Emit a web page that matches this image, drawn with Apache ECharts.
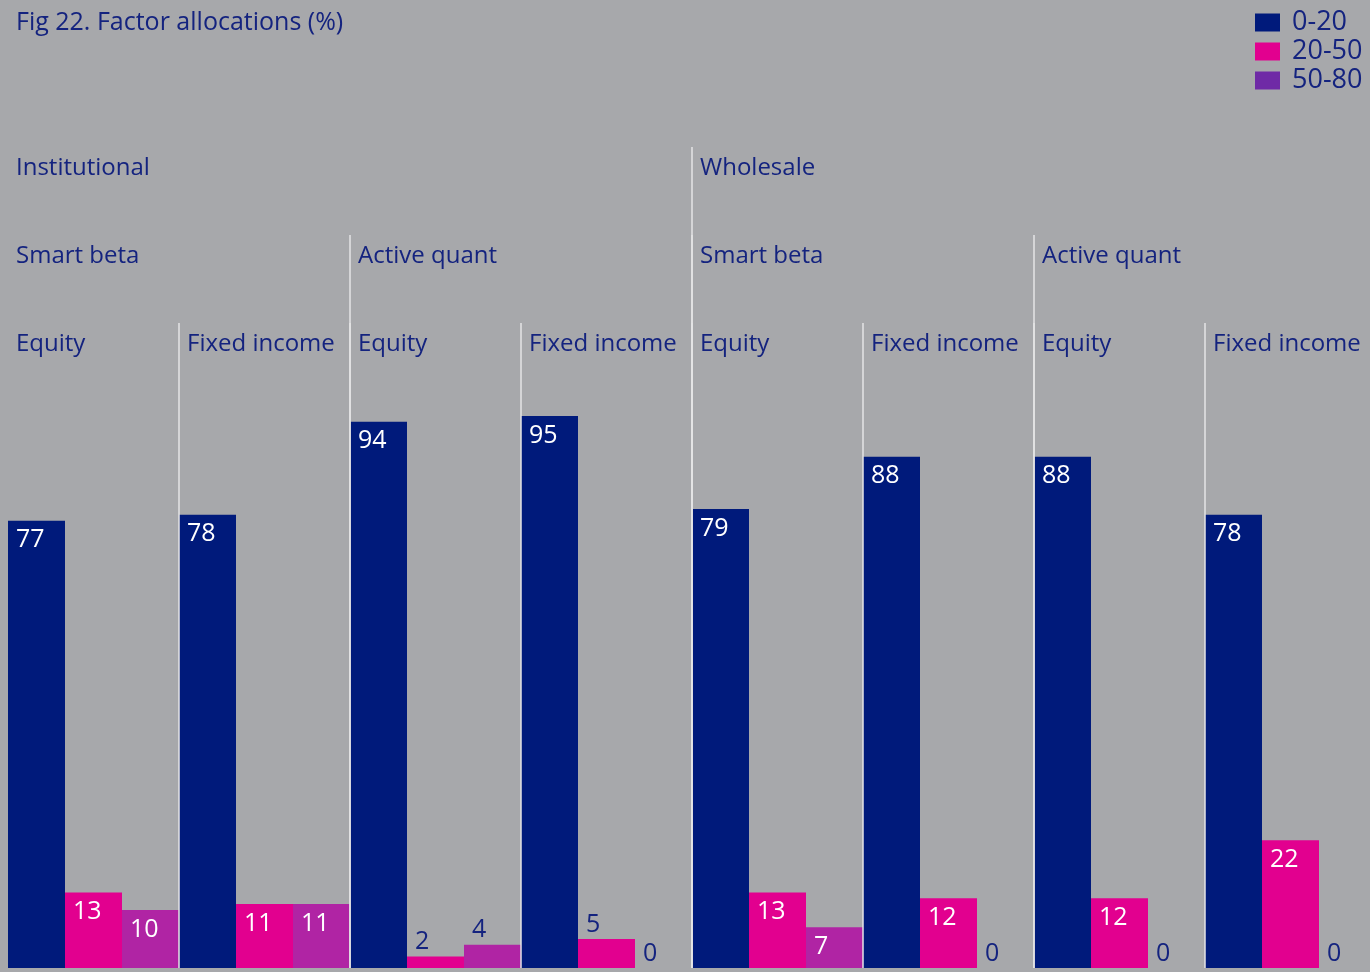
<!DOCTYPE html>
<html>
<head>
<meta charset="utf-8">
<script src="https://cdn.jsdelivr.net/npm/echarts@6/dist/echarts.min.js"></script>
<style>
  html, body { margin: 0; padding: 0; background: #a7a8ab; overflow: hidden; }
  #chart { width: 1380px; height: 972px; }
</style>
</head>
<body>
<div id="chart"></div>
<script>
// values (%)
const categories = ['Inst SB Equity', 'Inst SB Fixed income', 'Inst AQ Equity', 'Inst AQ Fixed income',
                    'Whole SB Equity', 'Whole SB Fixed income', 'Whole AQ Equity', 'Whole AQ Fixed income']
const seriesNames = ['0-20', '20-50', '50-80']
const low = [77, 78, 94, 95, 79, 88, 88, 78]
const mid = [13, 11, 2, 5, 13, 12, 12, 22]
const high = [10, 11, 4, 0, 7, 0, 0, 0]

// header rows
const assetLabels = ['Equity', 'Fixed income', 'Equity', 'Fixed income', 'Equity', 'Fixed income', 'Equity', 'Fixed income']
const styleCats = [0, 2, 4, 6]
const styleLabels = ['Smart beta', 'Active quant', 'Smart beta', 'Active quant']
const clientCats = [0, 4]
const clientLabels = ['Institutional', 'Wholesale']

const NAVY = '#001a7b'
const PINK = '#e2008f'
const PURPLE = '#b024a4'
const TEXT = '#14237f'
const FONT = 'Open Sans'

function barData(values) {
    return values.map(v => {
        const inside = v >= 7
        return {
            value: v,
            label: {
                show: true,
                position: inside ? [8, 7] : [8, -27],
                color: inside ? '#ffffff' : TEXT,
                fontSize: 25,
                fontFamily: FONT
            }
        }
    })
}

function headerSeries(cats, labels, textY, lineTop) {
    return {
        type: 'custom',
        silent: true,
        clip: false,
        z: 5,
        data: cats.map((c, i) => [c, 0, labels[i]]),
        renderItem: (params, api) => {
            const cat = api.value(0)
            const base = api.coord([cat, 0])
            const bw = api.size([1, 0])[0]
            const left = base[0] - bw / 2
            const children = [{
                type: 'text',
                style: {
                    x: left + 8, y: textY,
                    text: labels[params.dataIndex],
                    fill: TEXT, font: '24px "' + FONT + '"',
                    verticalAlign: 'middle', align: 'left'
                }
            }]
            if (cat > 0) {
                children.push({
                    type: 'line',
                    shape: { x1: left, y1: lineTop, x2: left, y2: base[1] },
                    style: { stroke: '#e4e4e6', lineWidth: 1.5 }
                })
            }
            return { type: 'group', children }
        }
    }
}

const chart = echarts.init(document.getElementById('chart'))

chart.setOption({
    backgroundColor: '#a7a8ab',
    animation: false,
    title: {
        text: 'Fig 22. Factor allocations (%)',
        left: 11, top: 5,
        textStyle: { color: TEXT, fontSize: 25, fontWeight: 'normal', fontFamily: FONT }
    },
    legend: {
        orient: 'vertical',
        left: 1255, top: 8,
        padding: 0,
        itemWidth: 25, itemHeight: 18, itemGap: 0,
        icon: 'rect',
        textStyle: { color: TEXT, fontSize: 27, lineHeight: 29, fontFamily: FONT, padding: [0, 0, 0, 7] },
        data: [
            { name: seriesNames[0], itemStyle: { color: NAVY } },
            { name: seriesNames[1], itemStyle: { color: PINK } },
            { name: seriesNames[2], itemStyle: { color: '#6f2aa6' } }
        ]
    },
    grid: { left: 8, top: 387, width: 1368, height: 581 },
    xAxis: {
        type: 'category',
        data: categories,
        axisLine: { show: false },
        axisTick: { show: false },
        axisLabel: { show: false }
    },
    yAxis: {
        type: 'value',
        min: 0, max: 100,
        show: false,
        splitLine: { show: false }
    },
    series: [
        { name: seriesNames[0], type: 'bar', data: barData(low), itemStyle: { color: NAVY },
          barGap: '0%', barCategoryGap: '0%' },
        { name: seriesNames[1], type: 'bar', data: barData(mid), itemStyle: { color: PINK } },
        { name: seriesNames[2], type: 'bar', data: barData(high), itemStyle: { color: PURPLE } },
        headerSeries(categories.map((c, i) => i), assetLabels, 344, 323),
        headerSeries(styleCats, styleLabels, 256, 235),
        headerSeries(clientCats, clientLabels, 168, 147)
    ]
})
</script>
</body>
</html>
